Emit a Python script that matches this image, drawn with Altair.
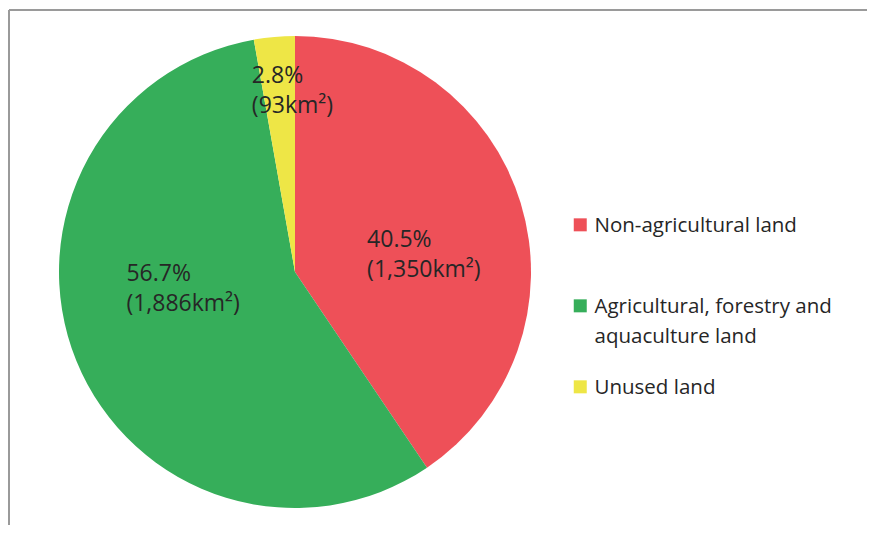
import altair as alt
import pandas as pd

categories = ["Non-agricultural land", "Agricultural, forestry and\naquaculture land", "Unused land"]
areas = [1350, 1886, 93]
percents = ["40.5%", "56.7%", "2.8%"]
area_labels = ["(1,350km²)", "(1,886km²)", "(93km²)"]
colors = ["#EE5058", "#36AE5A", "#EEE646"]

df = pd.DataFrame({
    "category": categories,
    "area": areas,
    "order": [0, 1, 2],
    "label": [p + "\n" + a for p, a in zip(percents, area_labels)],
})

CX, CY, R = 286, 262, 236
W, H = 858, 515
FONT = "Open Sans"

pie = alt.Chart(df).mark_arc(outerRadius=R, strokeWidth=0).encode(
    theta=alt.Theta("area:Q", stack=True),
    order=alt.Order("order:Q"),
    x=alt.value(CX), y=alt.value(CY),
    color=alt.Color(
        "category:N",
        sort=categories,
        scale=alt.Scale(domain=categories, range=colors),
        legend=alt.Legend(
            title=None, orient="none", legendX=561, legendY=196,
            symbolType="M-1,0.32L1,0.32L1,2.32L-1,2.32Z", symbolSize=169, symbolStrokeWidth=0,
            labelFont=FONT, labelFontSize=20.5, labelColor="#262626",
            labelExpr="indexof(datum.label, '\\n') >= 0 ? split(datum.label, '\\n') : [datum.label, ' ']",
            labelLimit=400, rowPadding=20, labelOffset=4, labelBaseline="top",
        ),
    ),
)

stacked = alt.Chart(df).transform_window(
    cum="sum(area)", sort=[alt.SortField("order")], frame=[None, 0]
).transform_joinaggregate(total="sum(area)").transform_calculate(
    frac="(datum.cum - datum.area / 2) / datum.total"
)

def label_layer(cat, radius, dx, dy):
    return stacked.transform_filter(alt.datum.category == cat).mark_text(
        radius=radius, font=FONT, fontSize=23, color="#262626",
        lineBreak="\n", lineHeight=30, dx=dx, dy=dy, align="left", baseline="middle",
    ).encode(
        theta=alt.Theta("frac:Q", stack=None, scale=alt.Scale(domain=[0, 1], range=[0, 6.283185307])),
        x=alt.value(CX), y=alt.value(CY), text="label:N",
    )

labels = alt.layer(
    label_layer(categories[0], 135, -57, 7),
    label_layer(categories[1], 115, -62, -41),
    label_layer(categories[2], 184, -27, -13),
)

border_top = alt.Chart(df).mark_rule(color="#9a9a9a", strokeWidth=2).encode(
    x=alt.value(0), x2=alt.value(W), y=alt.value(0)
)
border_left = alt.Chart(df).mark_rule(color="#9a9a9a", strokeWidth=2).encode(
    x=alt.value(0), y=alt.value(0), y2=alt.value(H)
)

chart = alt.layer(pie, labels, border_top, border_left).resolve_scale(theta="independent").properties(
    width=W, height=H,
    padding={"left": 1, "top": 2, "right": 0, "bottom": 0},
    autosize=alt.AutoSizeParams(type="none"),
).configure_view(strokeOpacity=0).configure(
    background="white", style={"guide-label": {"lineHeight": 30}}
)

chart.save("out.html", embed_options={"renderer": "svg", "actions": False})
